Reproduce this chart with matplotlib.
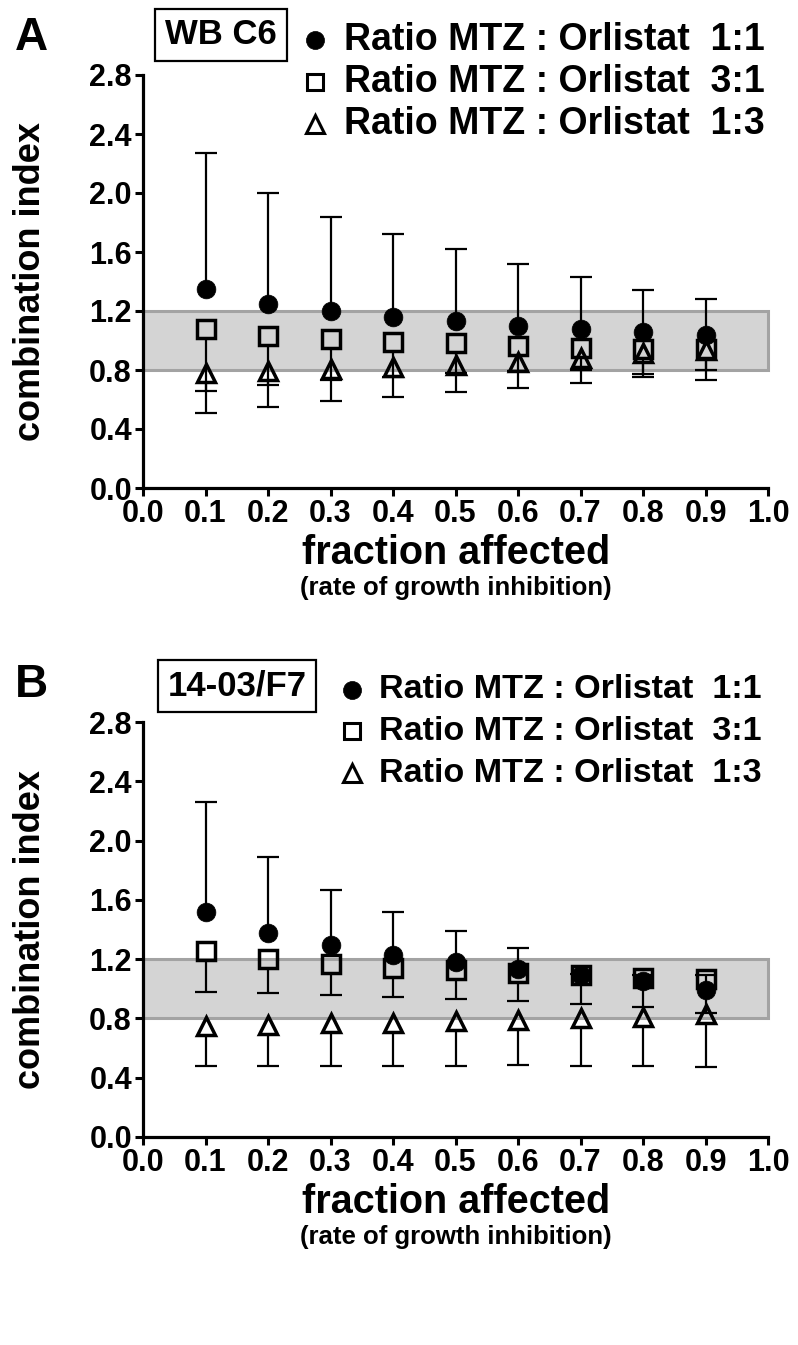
import matplotlib
matplotlib.use("Agg")
import matplotlib.pyplot as plt
from matplotlib.patches import Rectangle
from matplotlib.lines import Line2D
import numpy as np

plt.rcParams['font.family'] = ['Liberation Sans', 'DejaVu Sans']
plt.rcParams['font.weight'] = 'bold'

W, H = 798, 1345

fa = [0.1, 0.2, 0.3, 0.4, 0.5, 0.6, 0.7, 0.8, 0.9]

# Panel A (WB C6)
a_r11 = [1.35, 1.25, 1.20, 1.16, 1.13, 1.10, 1.08, 1.06, 1.04]
a_r11_hi = [2.27, 2.00, 1.84, 1.72, 1.62, 1.52, 1.43, 1.34, 1.28]
a_r31 = [1.08, 1.03, 1.01, 0.99, 0.98, 0.96, 0.95, 0.94, 0.94]
a_r31_lo = [0.66, 0.70, 0.73, 0.755, 0.78, 0.79, 0.80, 0.77, 0.80]
a_r13 = [0.78, 0.795, 0.81, 0.823, 0.834, 0.854, 0.879, 0.913, 0.935]
a_r13_lo = [0.51, 0.55, 0.59, 0.62, 0.65, 0.68, 0.71, 0.75, 0.73]

# Panel B (14-03/F7)
b_r11 = [1.52, 1.375, 1.296, 1.228, 1.179, 1.131, 1.09, 1.05, 0.99]
b_r11_hi = [2.26, 1.887, 1.664, 1.515, 1.391, 1.278, 1.10, 1.09, 1.09]
b_r31 = [1.255, 1.20, 1.17, 1.143, 1.127, 1.104, 1.093, 1.075, 1.064]
b_r31_lo = [0.98, 0.969, 0.956, 0.944, 0.933, 0.917, 0.897, 0.874, 0.838]
b_r13 = [0.748, 0.755, 0.766, 0.771, 0.782, 0.789, 0.80, 0.811, 0.829]
b_r13_lo = [0.478, 0.482, 0.482, 0.482, 0.482, 0.484, 0.482, 0.478, 0.469]

legend_labels = ["Ratio MTZ : Orlistat  1:1",
                 "Ratio MTZ : Orlistat  3:1",
                 "Ratio MTZ : Orlistat  1:3"]
yticks = [0.0, 0.4, 0.8, 1.2, 1.6, 2.0, 2.4, 2.8]
xticks = [0.0, 0.1, 0.2, 0.3, 0.4, 0.5, 0.6, 0.7, 0.8, 0.9, 1.0]
band = (0.8, 1.2)

fig = plt.figure(figsize=(W / 100, H / 100), dpi=100)


def fx(x):
    return x / W


def fy(y):
    return 1 - y / H


def draw_panel(top_px, bot_px, letter, letter_y, box_text, box_cx, box_cy,
               leg_mx, leg_tx, leg_rows, leg_fs, c, c_hi, s, s_lo, t, t_lo):
    left_px, right_px = 143, 768
    ax = fig.add_axes([fx(left_px), fy(bot_px), (right_px - left_px) / W,
                       (bot_px - top_px) / H])
    ax.set_xlim(0, 1.0)
    ax.set_ylim(0, 2.8)
    px_per_unit = (bot_px - top_px) / 2.8
    ax.add_patch(Rectangle((0, band[0]), 1.0, band[1] - band[0],
                           facecolor='#d4d4d4', edgecolor='#a3a3a3',
                           lw=2.2, zorder=0.5, clip_on=False))
    off = 10.5 / px_per_unit  # marker half size in data units
    lw_e = 1.6
    cap_ms = 16.5
    # squares (3:1) lower bars
    for xi, v, lo in zip(fa, s, s_lo):
        ax.plot([xi, xi], [lo, v - off], color='black', lw=lw_e, zorder=2,
                solid_capstyle='butt')
    ax.plot(fa, s_lo, linestyle='none', marker='_', ms=cap_ms, mew=lw_e,
            color='black', zorder=2)
    # triangles (1:3) lower bars
    for xi, v, lo in zip(fa, t, t_lo):
        ax.plot([xi, xi], [lo, v - off], color='black', lw=lw_e, zorder=2,
                solid_capstyle='butt')
    ax.plot(fa, t_lo, linestyle='none', marker='_', ms=cap_ms, mew=lw_e,
            color='black', zorder=2)
    # circles (1:1) upper bars
    for xi, v, hi in zip(fa, c, c_hi):
        ax.plot([xi, xi], [v, hi], color='black', lw=lw_e, zorder=4,
                solid_capstyle='butt')
    ax.plot(fa, c_hi, linestyle='none', marker='_', ms=cap_ms, mew=lw_e,
            color='black', zorder=4)
    ax.plot(fa, s, linestyle='none', marker='s', ms=12.5, mew=2.5,
            mfc='none', mec='black', zorder=3)
    ax.plot(fa, t, linestyle='none', marker='^', ms=13.5, mew=2.5,
            mfc='none', mec='black', zorder=3.5)
    ax.plot(fa, c, linestyle='none', marker='o', ms=13.5, mew=0.5,
            mfc='black', mec='black', zorder=5)

    for side in ['top', 'right']:
        ax.spines[side].set_visible(False)
    for side in ['left', 'bottom']:
        ax.spines[side].set_linewidth(2.3)
    ax.set_xticks(xticks)
    ax.set_yticks(yticks)
    ax.set_xticklabels([f"{v:.1f}" for v in xticks])
    ax.set_yticklabels([f"{v:.1f}" for v in yticks])
    ax.tick_params(direction='out', length=6, width=2.2, labelsize=22,
                   pad=2)
    for lab in ax.get_xticklabels() + ax.get_yticklabels():
        lab.set_fontweight('bold')
    ax.set_facecolor('none')

    mid_y = (top_px + bot_px) / 2
    fig.text(fx(31), fy(mid_y), "combination index", rotation=90,
             ha='center', va='center', fontsize=26, fontweight='bold')
    fig.text(fx(456), fy(bot_px + 65), "fraction affected", ha='center',
             va='center', fontsize=28.5, fontweight='bold')
    fig.text(fx(456), fy(bot_px + 100), "(rate of growth inhibition)",
             ha='center', va='center', fontsize=18.5, fontweight='bold')
    fig.text(fx(31), fy(letter_y), letter, ha='center', va='center',
             fontsize=33, fontweight='bold')
    fig.text(fx(box_cx), fy(box_cy), box_text, ha='center', va='center',
             fontsize=25, fontweight='bold',
             bbox=dict(boxstyle='square,pad=0.28', facecolor='white',
                       edgecolor='black', lw=1.6))
    mk = [dict(marker='o', ms=13, mfc='black', mec='black', mew=0.5),
          dict(marker='s', ms=11.5, mfc='none', mec='black', mew=2.2),
          dict(marker='^', ms=12.5, mfc='none', mec='black', mew=2.2)]
    for (ry, lab, m) in zip(leg_rows, legend_labels, mk):
        fig.add_artist(Line2D([fx(leg_mx)], [fy(ry)], linestyle='none',
                              transform=fig.transFigure, **m))
        fig.text(fx(leg_tx), fy(ry), lab, ha='left', va='center',
                 fontsize=leg_fs, fontweight='bold')
    return ax


draw_panel(75, 488, "A", 38, "WB C6", 221, 35, 315, 344, [40, 82, 124], 27,
           a_r11, a_r11_hi, a_r31, a_r31_lo, a_r13, a_r13_lo)
draw_panel(722, 1137, "B", 685, "14-03/F7", 237, 686, 352, 379,
           [690, 731, 773], 24.6,
           b_r11, b_r11_hi, b_r31, b_r31_lo, b_r13, b_r13_lo)

fig.savefig("out.png", dpi=100)
